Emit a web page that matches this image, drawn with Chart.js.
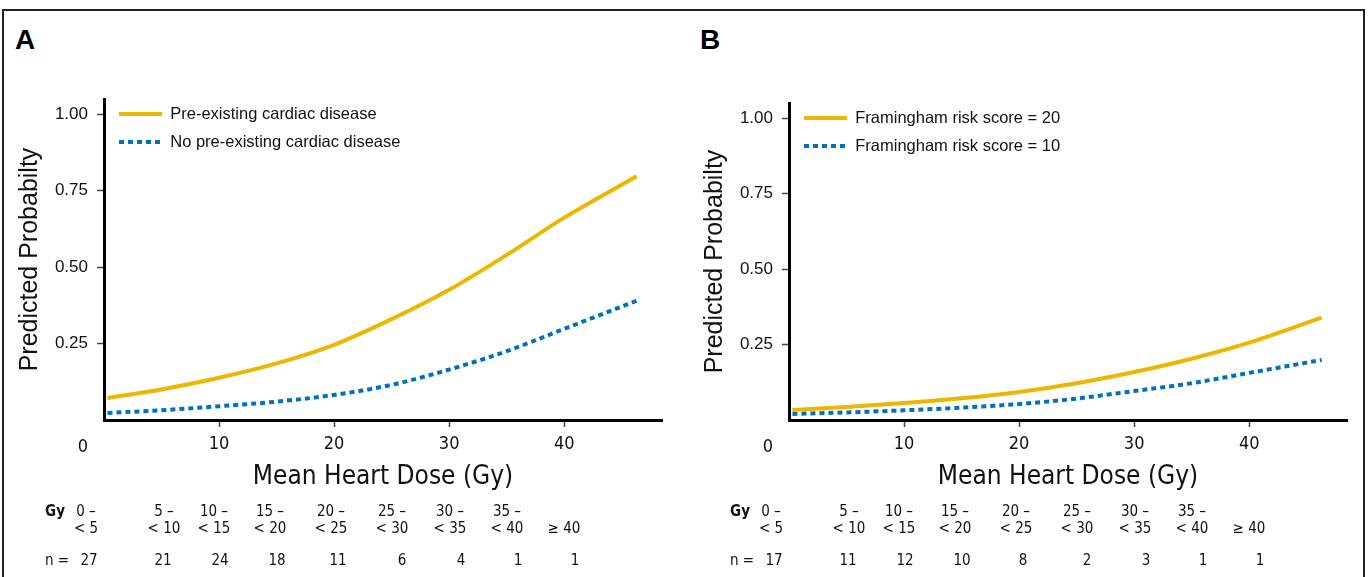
<!DOCTYPE html>
<html>
<head>
<meta charset="utf-8">
<script src="https://cdn.jsdelivr.net/npm/chart.js@4.4.1/dist/chart.umd.min.js"></script>
<style>
  body { margin:0; background:#fff; width:1368px; height:577px; overflow:hidden; position:relative; }
  .frame { position:absolute; left:2px; top:9px; width:1359px; height:620px; border:2px solid #222; border-bottom:none; }
  .panel { position:absolute; top:0; height:495px; }
  .tag { position:absolute; top:26px; font:bold 28px "Liberation Sans", Arial, sans-serif; line-height:28px; color:#000; }
  .t { position:absolute; font-family:"Liberation Sans Narrow", "DejaVu Sans Condensed", sans-serif; font-size:15px; transform:translate(-50%,-50%); white-space:nowrap; color:#111; }
  .zero { font-size:18px; }
  .b { font-weight:bold; }
</style>
</head>
<body>
<div class="frame"></div>
<div class="tag" style="left:15px">A</div>
<div class="tag" style="left:700px">B</div>
<div class="panel" style="left:0;width:684px"><canvas id="chartA"></canvas></div>
<div class="panel" style="left:685px;width:683px"><canvas id="chartB"></canvas></div>
<div id="tables"></div>

<script>
// dose (Gy) and predicted probabilities
const dose = [0.3, 5, 10, 15, 20, 25, 30, 35, 40, 46.3];
const preExisting = [0.072, 0.100, 0.138, 0.185, 0.246, 0.330, 0.426, 0.540, 0.662, 0.797];
const noPreExisting = [0.023, 0.032, 0.045, 0.060, 0.082, 0.115, 0.165, 0.225, 0.298, 0.390];
const framingham20 = [0.033, 0.043, 0.056, 0.072, 0.093, 0.122, 0.159, 0.203, 0.256, 0.339];
const framingham10 = [0.020, 0.025, 0.032, 0.041, 0.053, 0.071, 0.096, 0.122, 0.156, 0.199];

const xTicks = [10, 20, 30, 40];
const yTicks = [0.25, 0.50, 0.75, 1.00];

// table under each panel
const gyFrom = ['0 –', '5 –', '10 –', '15 –', '20 –', '25 –', '30 –', '35 –', ''];
const gyTo = ['< 5', '< 10', '< 15', '< 20', '< 25', '< 30', '< 35', '< 40', '≥ 40'];
const nA = [27, 21, 24, 18, 11, 6, 4, 1, 1];
const nB = [17, 11, 12, 10, 8, 2, 3, 1, 1];

const yellow = '#EBB700';
const blue = '#0072BC';
const narrow = '"Liberation Sans Narrow", "DejaVu Sans Condensed", sans-serif';
const sans = '"Liberation Sans", Arial, sans-serif';
const legendFont = 16.5;

// chart.js resets top of a 'chartArea' legend to 0, so put it back inside the plot
const legendInside = {
  id: 'legendInside',
  afterLayout(chart) {
    const lg = chart.legend, a = chart.chartArea;
    lg.left = a.left + 3.5;
    lg.top = a.top - 4.75;
    lg.right = lg.left + lg.width;
    lg.bottom = lg.top + lg.height;
  }
};

function makeChart(id, topPad, rightPad, s1, s2) {
  return new Chart(document.getElementById(id), {
    type: 'line',
    data: {
      datasets: [
        {
          label: s1.label,
          data: dose.map((x, i) => ({x: x, y: s1.values[i]})),
          borderColor: yellow,
          backgroundColor: yellow,
          borderWidth: 4,
          pointRadius: 0,
          cubicInterpolationMode: 'monotone',
          fill: false
        },
        {
          label: s2.label,
          data: dose.map((x, i) => ({x: x, y: s2.values[i]})),
          borderColor: blue,
          backgroundColor: blue,
          borderWidth: 4,
          borderDash: [5, 4],
          pointRadius: 0,
          cubicInterpolationMode: 'monotone',
          fill: false
        }
      ]
    },
    plugins: [legendInside],
    options: {
      responsive: true,
      maintainAspectRatio: false,
      animation: false,
      layout: { padding: { left: 0, top: topPad, right: rightPad, bottom: 0 } },
      plugins: {
        tooltip: { enabled: false },
        legend: {
          position: 'chartArea',
          align: 'start',
          labels: {
            boxWidth: 43,
            boxHeight: 0,
            padding: 11.5,
            color: '#111',
            font: { family: sans, size: legendFont }
          }
        }
      },
      scales: {
        x: {
          type: 'linear',
          min: 0,
          max: 48.5,
          afterBuildTicks: s => { s.ticks = xTicks.map(v => ({value: v})); },
          afterFit: s => { s.height = 75; },
          border: { display: true, color: '#000', width: 3 },
          grid: { drawOnChartArea: false, tickLength: 7, tickColor: '#444', tickWidth: 1.5 },
          ticks: { color: '#111', padding: 7, font: { family: narrow, size: 18 } },
          title: {
            display: true,
            text: 'Mean Heart Dose (Gy)',
            color: '#111',
            padding: { top: 0, bottom: 2 },
            font: { family: narrow, size: 26 }
          }
        },
        y: {
          min: 0,
          max: 1.05,
          afterBuildTicks: s => { s.ticks = yTicks.map(v => ({value: v})); },
          afterFit: s => { s.width = 104; },
          border: { display: true, color: '#000', width: 3 },
          grid: { drawOnChartArea: false, tickLength: 7, tickColor: '#444', tickWidth: 1.5 },
          ticks: { color: '#111', padding: 9, font: { family: sans, size: 17 }, callback: v => v.toFixed(2) },
          title: {
            display: true,
            text: 'Predicted Probabilty',
            color: '#111',
            padding: { top: 15, bottom: 0 },
            font: { family: sans, size: 25 }
          }
        }
      }
    }
  });
}

makeChart('chartA', 99, 22,
  {label: 'Pre-existing cardiac disease', values: preExisting},
  {label: 'No pre-existing cardiac disease', values: noPreExisting});
makeChart('chartB', 103, 21,
  {label: 'Framingham risk score = 20', values: framingham20},
  {label: 'Framingham risk score = 10', values: framingham10});

// tables + the corner "0" labels
const colX = [86, 164, 214, 270, 331, 392, 450, 507, 564];
const nX = [89, 163, 220, 277, 338, 402, 461, 518, 575];
const host = document.getElementById('tables');
function put(text, x, y, cls) {
  const d = document.createElement('div');
  d.className = 't' + (cls ? ' ' + cls : '');
  d.style.left = x + 'px';
  d.style.top = y + 'px';
  d.textContent = text;
  host.appendChild(d);
}
[[0, nA], [685, nB]].forEach(([off, counts]) => {
  put('0', off + 83, 445, 'zero');
  put('Gy', off + 55, 511, 'b');
  put('n =', off + 57, 560);
  gyFrom.forEach((t, i) => {
    if (t) put(t, off + colX[i], 511);
    put(gyTo[i], off + colX[i], 528);
    put(String(counts[i]), off + nX[i], 560);
  });
});
</script>
</body>
</html>
